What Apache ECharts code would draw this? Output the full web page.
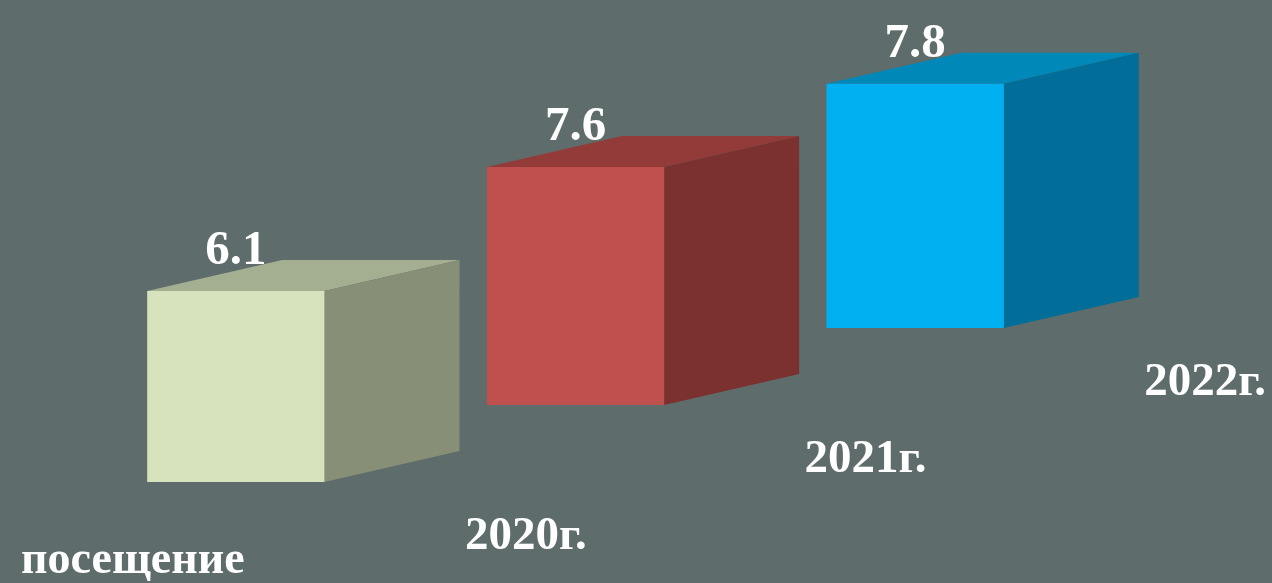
<!DOCTYPE html>
<html>
<head>
<meta charset="utf-8">
<script src="https://cdn.jsdelivr.net/npm/echarts@6/dist/echarts.min.js"></script>
<style>
html,body{margin:0;padding:0;background:#5e6c6b;}
#c{width:1272px;height:583px;}
</style>
</head>
<body>
<div id="c"></div>
<script>
// ---- data ----
var seriesName = 'посещение';
var categories = ['2020г.', '2021г.', '2022г.'];
var values = [6.1, 7.6, 7.8];

// ---- styles ----
var palette = [
  {front: '#d6e3bc', top: '#a4ae90', side: '#888f77'},
  {front: '#c0504d', top: '#933b39', side: '#7b3130'},
  {front: '#00b0f0', top: '#0088b8', side: '#006e98'}
];
var depthX = 135, depthY = -31;   // cube depth projection
var floorStep = 77;               // floor rises per category (perspective)
var FONT = '"Liberation Serif", "Times New Roman", serif';

var chart = echarts.init(document.getElementById('c'));

function renderItem(params, api) {
  var idx = api.value(0);
  var val = api.value(1);
  var p0 = api.coord([idx, 0]);
  var p1 = api.coord([idx, val]);
  var shift = idx * floorStep;
  var w = api.size([1, 0])[0] * 0.522;
  var cx = p0[0];
  var x0 = cx - w / 2, x1 = cx + w / 2;
  var base = p0[1] - shift, top = p1[1] - shift;
  var c = palette[idx % palette.length];
  return {
    type: 'group',
    children: [
      {type: 'polygon', shape: {points: [[x0, top], [x0 + depthX, top + depthY], [x1 + depthX, top + depthY], [x1, top]]},
       style: {fill: c.top}},
      {type: 'polygon', shape: {points: [[x1, top], [x1 + depthX, top + depthY], [x1 + depthX, base + depthY], [x1, base]]},
       style: {fill: c.side}},
      {type: 'rect', shape: {x: x0, y: top, width: w, height: base - top},
       style: {fill: c.front}},
      {type: 'text', x: cx, y: top - 40,
       style: {text: String(values[idx]), fill: '#ffffff', font: 'bold 49px ' + FONT, align: 'center', verticalAlign: 'middle'}},
      {type: 'text', x: cx + 290, y: base + 55,
       style: {text: categories[idx], fill: '#ffffff', font: 'bold 47px ' + FONT, align: 'center', verticalAlign: 'middle'}}
    ]
  };
}

chart.setOption({
  backgroundColor: '#5e6c6b',
  animation: false,
  title: {
    text: seriesName, left: 16, top: 533,
    textStyle: {color: '#ffffff', fontSize: 46, fontWeight: 'bold', fontFamily: FONT}
  },
  grid: {left: 66, right: 187, top: 169, bottom: 101},
  xAxis: {type: 'category', data: categories, show: false, boundaryGap: true},
  yAxis: {type: 'value', min: 0, max: 10, show: false},
  series: [{
    type: 'custom',
    name: seriesName,
    renderItem: renderItem,
    clip: false,
    data: values.map(function (v, i) { return [i, v]; })
  }]
});
</script>
</body>
</html>
